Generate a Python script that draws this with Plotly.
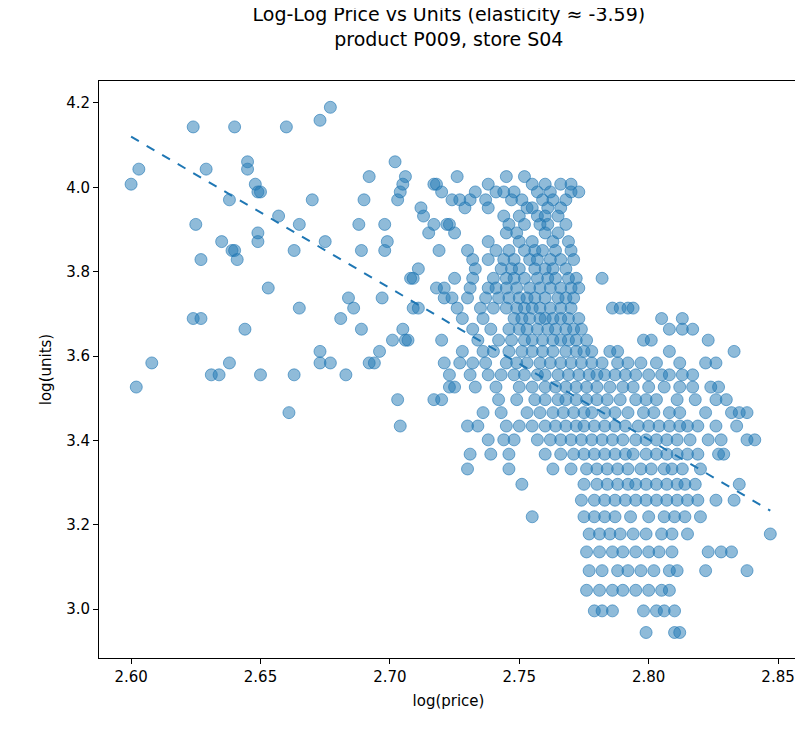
import numpy as np
import plotly.graph_objects as go

# sparse left part: (log price, units sold)
left_price = [2.600, 2.603, 2.602, 2.608, 2.624, 2.625, 2.627, 2.629, 2.624, 2.627, 2.631, 2.634,
              2.635, 2.638, 2.638, 2.639, 2.640, 2.640, 2.641, 2.644, 2.645, 2.645, 2.648, 2.649,
              2.650, 2.649, 2.649, 2.650, 2.653, 2.657, 2.660, 2.661, 2.663, 2.663, 2.665, 2.665,
              2.670, 2.673, 2.673, 2.673, 2.675, 2.677, 2.677, 2.681, 2.683, 2.684, 2.686, 2.688,
              2.689, 2.689, 2.690, 2.692, 2.692, 2.694, 2.696, 2.697, 2.698, 2.698, 2.699, 2.701,
              2.703, 2.702, 2.703, 2.704, 2.704, 2.705, 2.705, 2.706, 2.707, 2.706, 2.708, 2.709,
              2.709, 2.711, 2.711, 2.712, 2.713, 2.715, 2.717, 2.717, 2.719, 2.720, 2.721, 2.721,
              2.721, 2.722, 2.723, 2.724, 2.725]
left_units = [55, 57, 34, 36, 63, 50, 46, 57, 40, 40, 35, 35,
              48, 53, 36, 47, 47, 63, 46, 39, 58, 57, 55, 54,
              54, 48, 49, 35, 43, 51, 63, 32, 35, 47, 41, 50,
              53, 37, 36, 64, 48, 66, 36, 40, 35, 42, 41, 50,
              39, 47, 53, 56, 36, 36, 37, 42, 50, 47, 48, 38,
              33, 58, 53, 31, 54, 55, 39, 38, 38, 56, 44, 44,
              41, 41, 45, 52, 51, 49, 55, 33, 47, 54, 43, 42,
              36, 50, 34, 53, 34]

# dense part, by units sold
rows = {
    56: [2.726, 2.752, 2.745],
    55: [2.718, 2.738, 2.755, 2.760, 2.766, 2.770],
    54: [2.733, 2.741, 2.744, 2.748, 2.757, 2.762, 2.770, 2.773],
    53: [2.727, 2.731, 2.737, 2.747, 2.751, 2.759, 2.763, 2.768],
    52: [2.729, 2.738, 2.753, 2.755, 2.761, 2.766],
    51: [2.744, 2.750, 2.757, 2.760, 2.765],
    50: [2.717, 2.723, 2.746, 2.752, 2.758, 2.761, 2.768],
    49: [2.725, 2.745, 2.749, 2.760, 2.765],
    48: [2.738, 2.750, 2.755, 2.763, 2.769],
    47: [2.730, 2.741, 2.746, 2.752, 2.756, 2.759, 2.764, 2.770],
    46: [2.732, 2.738, 2.744, 2.748, 2.754, 2.757, 2.762, 2.766, 2.771],
    45: [2.733, 2.743, 2.747, 2.750, 2.756, 2.760, 2.763, 2.768],
    44: [2.725, 2.732, 2.740, 2.745, 2.748, 2.752, 2.757, 2.761, 2.764, 2.769, 2.772, 2.782],
    43: [2.718, 2.731, 2.738, 2.741, 2.745, 2.749, 2.754, 2.758, 2.762, 2.766, 2.770, 2.773],
    42: [2.724, 2.730, 2.737, 2.742, 2.746, 2.750, 2.753, 2.756, 2.760, 2.765, 2.768, 2.771],
    41: [2.726, 2.735, 2.740, 2.745, 2.749, 2.752, 2.755, 2.758, 2.762, 2.766, 2.770, 2.786,
         2.789, 2.792, 2.794],
    40: [2.728, 2.736, 2.748, 2.751, 2.754, 2.758, 2.760, 2.763, 2.766, 2.769, 2.773, 2.813, 2.805],
    39: [2.732, 2.739, 2.746, 2.750, 2.753, 2.757, 2.761, 2.764, 2.768, 2.771, 2.774, 2.808,
         2.813, 2.817],
    38: [2.720, 2.734, 2.742, 2.747, 2.752, 2.755, 2.759, 2.763, 2.766, 2.769, 2.772, 2.776,
         2.798, 2.801, 2.823],
    37: [2.728, 2.736, 2.740, 2.746, 2.751, 2.755, 2.759, 2.763, 2.768, 2.772, 2.775, 2.778,
         2.785, 2.788, 2.808, 2.833],
    36: [2.727, 2.732, 2.737, 2.745, 2.749, 2.753, 2.758, 2.762, 2.766, 2.770, 2.774, 2.778,
         2.782, 2.788, 2.792, 2.797, 2.803, 2.812, 2.822, 2.826],
    35: [2.723, 2.731, 2.738, 2.743, 2.748, 2.752, 2.757, 2.760, 2.765, 2.769, 2.773, 2.777,
         2.780, 2.783, 2.787, 2.791, 2.795, 2.800, 2.805, 2.808, 2.813, 2.817],
    34: [2.733, 2.741, 2.750, 2.755, 2.760, 2.764, 2.768, 2.772, 2.776, 2.780, 2.785, 2.790,
         2.794, 2.800, 2.806, 2.812, 2.817, 2.824, 2.827],
    33: [2.720, 2.742, 2.749, 2.756, 2.760, 2.765, 2.768, 2.772, 2.776, 2.780, 2.784, 2.789,
         2.795, 2.799, 2.803, 2.811, 2.818, 2.826, 2.830],
    32: [2.736, 2.743, 2.753, 2.758, 2.763, 2.767, 2.771, 2.775, 2.778, 2.783, 2.787, 2.792,
         2.798, 2.802, 2.808, 2.812, 2.822, 2.832, 2.835, 2.838],
    31: [2.730, 2.734, 2.745, 2.750, 2.755, 2.760, 2.764, 2.768, 2.772, 2.775, 2.779, 2.783,
         2.787, 2.791, 2.796, 2.800, 2.804, 2.808, 2.812, 2.815, 2.819, 2.826, 2.834],
    30: [2.738, 2.744, 2.748, 2.757, 2.762, 2.766, 2.770, 2.774, 2.778, 2.782, 2.786, 2.790,
         2.795, 2.799, 2.803, 2.807, 2.811, 2.816, 2.823, 2.828, 2.838, 2.841],
    29: [2.731, 2.739, 2.746, 2.760, 2.766, 2.771, 2.775, 2.779, 2.783, 2.787, 2.791, 2.794,
         2.799, 2.803, 2.807, 2.811, 2.815, 2.819, 2.827, 2.829],
    28: [2.730, 2.746, 2.763, 2.770, 2.776, 2.780, 2.784, 2.788, 2.792, 2.797, 2.801, 2.806,
         2.809, 2.813, 2.820],
    27: [2.751, 2.775, 2.780, 2.784, 2.788, 2.792, 2.795, 2.799, 2.803, 2.807, 2.811, 2.814,
         2.818, 2.835],
    26: [2.774, 2.779, 2.783, 2.787, 2.791, 2.795, 2.799, 2.803, 2.807, 2.811, 2.815, 2.819,
         2.826, 2.833],
    25: [2.755, 2.775, 2.779, 2.783, 2.787, 2.793, 2.800, 2.806, 2.810, 2.814, 2.820],
    24: [2.777, 2.781, 2.785, 2.789, 2.794, 2.799, 2.805, 2.809, 2.815, 2.847],
    23: [2.776, 2.781, 2.786, 2.790, 2.795, 2.800, 2.804, 2.809, 2.823, 2.828, 2.832],
    22: [2.777, 2.782, 2.788, 2.792, 2.797, 2.802, 2.808, 2.811, 2.822, 2.838],
    21: [2.776, 2.781, 2.786, 2.790, 2.795, 2.800, 2.805, 2.808],
    20: [2.779, 2.782, 2.786, 2.798, 2.803, 2.806, 2.810],
    19: [2.799, 2.810, 2.812],
}

fit_slope = -3.59
fit_intercept = 13.454
fit_x = [2.600, 2.847]

log_price = list(left_price)
units = list(left_units)
for u, xs in rows.items():
    log_price += xs
    units += [u] * len(xs)
log_units = np.log(units)

fig = go.Figure()
fig.add_trace(go.Scatter(
    x=log_price, y=log_units, mode="markers",
    marker=dict(size=12, color="rgba(31,119,180,0.5)", line=dict(width=1, color="rgba(31,119,180,0.6)")),
))
fig.add_trace(go.Scatter(
    x=fit_x, y=[fit_intercept + fit_slope * v for v in fit_x], mode="lines",
    line=dict(color="#1f77b4", dash="dash", width=2),
))

axis = dict(showgrid=False, zeroline=False, showline=True, linecolor="black", linewidth=1,
            mirror=True, ticks="outside", ticklen=5, tickcolor="black", automargin=False,
            tickfont=dict(size=15, color="black"))
fig.update_layout(
    width=803, height=729, showlegend=False,
    plot_bgcolor="white", paper_bgcolor="white",
    font=dict(family="DejaVu Sans", color="black"),
    margin=dict(l=91, r=13, t=73, b=79, autoexpand=False),
    title=dict(text="Log-Log Price vs Units (elasticity ≈ -3.59)<br>product P009, store S04",
               x=0.549, xanchor="center", y=0.982, yanchor="top", font=dict(size=19)),
    xaxis=dict(axis, range=[2.5876, 2.8577], tickvals=[2.60, 2.65, 2.70, 2.75, 2.80, 2.85],
               tickformat=".2f", title=dict(text="log(price)", font=dict(size=15), standoff=10)),
    yaxis=dict(axis, range=[2.884, 4.252], tickvals=[3.0, 3.2, 3.4, 3.6, 3.8, 4.0, 4.2],
               tickformat=".1f", title=dict(text="log(units)", font=dict(size=15), standoff=10)),
)
fig.write_html("out.html")
